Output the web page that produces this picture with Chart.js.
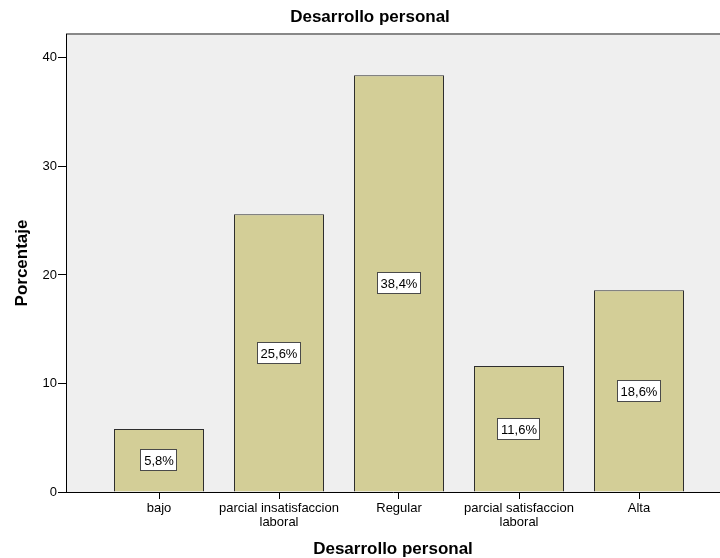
<!DOCTYPE html>
<html lang="es">
<head>
    <meta charset="UTF-8">
    <title>Desarrollo personal</title>
    <style>
        html, body { margin: 0; padding: 0; background: #fff; }
        #chart { display: block; }
    </style>
</head>
<body>
<canvas id="chart" width="720" height="558"></canvas>

<script src="https://cdn.jsdelivr.net/npm/chart.js"></script>
<script>
    const categories = [
        ['bajo'],
        ['parcial insatisfaccion', 'laboral'],
        ['Regular'],
        ['parcial satisfaccion', 'laboral'],
        ['Alta']
    ];
    const percentages = [5.8, 25.6, 38.4, 11.6, 18.6];
    const yTicks = [0, 10, 20, 30, 40];
    const chartTitle = 'Desarrollo personal';

    const FONT = 'Arial, "Liberation Sans", sans-serif';

    // plot background, grey top frame line and the chart title
    const plotFrame = {
        id: 'plotFrame',
        beforeDraw(chart) {
            const { ctx, chartArea: a } = chart;
            ctx.save();
            ctx.fillStyle = '#efefef';
            ctx.fillRect(a.left, a.top, a.right - a.left, a.bottom - a.top);
            ctx.fillStyle = '#888888';
            ctx.fillRect(a.left, a.top - 1, a.right - a.left, 2);
            ctx.fillStyle = '#000000';
            ctx.font = 'bold 17px ' + FONT;
            ctx.textAlign = 'center';
            ctx.textBaseline = 'middle';
            ctx.fillText(chartTitle, 370, 17);
            ctx.restore();
        }
    };

    // white boxed percentage labels in the middle of each bar
    const barLabels = {
        id: 'barLabels',
        afterDatasetsDraw(chart) {
            const ctx = chart.ctx;
            const meta = chart.getDatasetMeta(0);
            ctx.save();
            ctx.font = '13px ' + FONT;
            ctx.textAlign = 'center';
            ctx.textBaseline = 'middle';
            meta.data.forEach((bar, i) => {
                const txt = percentages[i].toFixed(1).replace('.', ',') + '%';
                const w = Math.round(ctx.measureText(txt).width) + 7;
                const h = 22;
                const cx = Math.round(bar.x);
                const cy = Math.round((bar.y + bar.base) / 2);
                const x0 = cx - Math.round(w / 2), y0 = cy - Math.round(h / 2);
                ctx.fillStyle = '#ffffff';
                ctx.fillRect(x0, y0, w, h);
                ctx.strokeStyle = '#4a4a4a';
                ctx.lineWidth = 1;
                ctx.strokeRect(x0 + 0.5, y0 + 0.5, w - 1, h - 1);
                ctx.fillStyle = '#000000';
                ctx.fillText(txt, cx, cy + 1);
            });
            ctx.restore();
        }
    };

    new Chart(document.getElementById('chart'), {
        type: 'bar',
        data: {
            datasets: [{
                data: percentages.map((v, i) => ({ x: i, y: v })),
                backgroundColor: '#d3ce97',
                borderColor: '#2e2e2e',
                borderWidth: 1,
                borderSkipped: 'bottom',
                categoryPercentage: 1,
                barPercentage: 0.75
            }]
        },
        options: {
            responsive: false,
            animation: false,
            devicePixelRatio: 1,
            layout: { padding: { top: 34, left: 0, right: 0, bottom: 0 } },
            plugins: {
                legend: { display: false },
                tooltip: { enabled: false },
                title: { display: false }
            },
            scales: {
                x: {
                    type: 'linear',
                    offset: false,
                    min: -0.775,
                    max: 4.675,
                    afterBuildTicks(scale) {
                        scale.ticks = categories.map((c, i) => ({ value: i }));
                    },
                    afterFit(scale) { scale.height = 66; },
                    grid: {
                        offset: false,
                        drawOnChartArea: false,
                        drawTicks: true,
                        tickLength: 7,
                        tickColor: '#000'
                    },
                    border: { display: true, color: '#000', width: 1 },
                    ticks: {
                        color: '#000',
                        padding: 2,
                        autoSkip: false,
                        maxRotation: 0,
                        font: { family: FONT, size: 13, lineHeight: 1.077 },
                        callback: (v) => categories[v]
                    },
                    title: {
                        display: true,
                        text: 'Desarrollo personal',
                        color: '#000',
                        font: { family: FONT, size: 17, weight: 'bold', lineHeight: 1 },
                        padding: { top: 0, bottom: 0.5 }
                    }
                },
                y: {
                    min: 0,
                    max: 42.2,
                    afterBuildTicks(scale) {
                        scale.ticks = yTicks.map(v => ({ value: v }));
                    },
                    afterFit(scale) { scale.width = 66; },
                    grid: {
                        drawOnChartArea: false,
                        drawTicks: true,
                        tickLength: 8,
                        tickColor: '#000'
                    },
                    border: { display: true, color: '#000', width: 1 },
                    ticks: {
                        color: '#000',
                        padding: 1,
                        font: { family: FONT, size: 13 }
                    },
                    title: {
                        display: true,
                        text: 'Porcentaje',
                        color: '#000',
                        font: { family: FONT, size: 17, weight: 'bold', lineHeight: 1 },
                        padding: { top: 14, bottom: 0 }
                    }
                }
            }
        },
        plugins: [plotFrame, barLabels]
    });
</script>
</body>
</html>
